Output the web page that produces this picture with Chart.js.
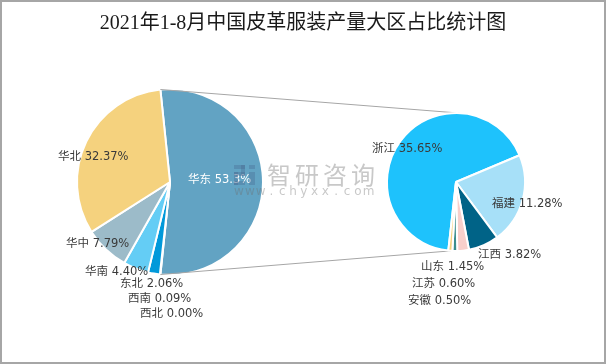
<!DOCTYPE html>
<html>
<head>
<meta charset="utf-8">
<script src="https://cdn.jsdelivr.net/npm/chart.js@4/dist/chart.umd.min.js"></script>
<style>
  body { margin: 0; background: #fff; }
  #wrap { position: relative; width: 606px; height: 364px; }
  #wrap canvas { position: absolute; left: 0; top: 0; }
</style>
</head>
<body>
<div id="wrap">
  <canvas id="mainPie" width="606" height="364"></canvas>
  <canvas id="subPie" width="606" height="364"></canvas>
</div>
<script>
const titleText = '2021年1-8月中国皮革服装产量大区占比统计图';

// primary pie: regions (clockwise from the 华东 slice)
const regions = ['华东', '西北', '西南', '东北', '华南', '华中', '华北'];
const regionShares = [53.3, 0.00, 0.09, 2.06, 4.40, 7.79, 32.37];
const regionColors = ['#62a3c3', '#7fa7c9', '#2f7fb0', '#0099da', '#64cdf5', '#9cbbc9', '#f5d27e'];

// secondary pie: provinces that make up 华东
const provinces = ['浙江', '福建', '江西', '山东', '江苏', '安徽'];
const provinceShares = [35.65, 11.28, 3.82, 1.45, 0.60, 0.50];
const provinceColors = ['#1ec2fc', '#a7e0f8', '#006387', '#f7cfcb', '#3a8d8d', '#f5d27e'];

// label anchors (left edge, middle) in the same order as the data
const regionLabelAt = [[188, 180], [140, 314], [128, 299], [120, 284], [85, 272], [66, 244], [58, 157]];
const provinceLabelAt = [[372, 149], [492, 204], [478, 255], [421, 267], [412, 284], [408, 301]];

const labelFont = '11.5px "DejaVu Sans", "Noto Sans CJK SC"';

function fmtPct(v) {
  // the source shows 53.3% with one decimal, the rest with two
  return (v >= 10 && Math.round(v * 10) / 10 === v ? v.toFixed(1) : v.toFixed(2)) + '%';
}

function sliceLabels(positions, whiteIdx) {
  return {
    id: 'sliceLabels',
    afterDatasetsDraw(chart) {
      const ctx = chart.ctx;
      const values = chart.data.datasets[0].data;
      ctx.save();
      ctx.font = labelFont;
      ctx.textBaseline = 'middle';
      ctx.textAlign = 'left';
      chart.data.labels.forEach((name, i) => {
        const [x, y] = positions[i];
        ctx.fillStyle = i === whiteIdx ? '#ffffff' : '#3a3a3a';
        ctx.fillText(name + ' ' + fmtPct(values[i]), x, y);
      });
      ctx.restore();
    }
  };
}

const frame = {
  id: 'frame',
  beforeDraw(chart) {
    const ctx = chart.ctx;
    ctx.save();
    ctx.fillStyle = '#fff';
    ctx.fillRect(0, 0, chart.width, chart.height);
    ctx.strokeStyle = '#a6a6a6';
    ctx.lineWidth = 2;
    ctx.strokeRect(1, 1, chart.width - 2, chart.height - 2);
    ctx.fillStyle = '#1a1a1a';
    ctx.font = '20px "Liberation Serif", "Noto Sans CJK SC"';
    ctx.textAlign = 'center';
    ctx.textBaseline = 'middle';
    ctx.fillText(titleText, 303, 24);
    ctx.restore();
  }
};

const watermark = {
  id: 'watermark',
  afterDraw(chart) {
    const ctx = chart.ctx;
    ctx.save();
    // logo block
    ctx.fillStyle = 'rgba(70,100,140,0.33)';
    ctx.fillRect(234, 165, 11, 4);
    ctx.fillRect(241, 165, 4, 11);
    ctx.fillRect(234, 172, 11, 4);
    ctx.fillRect(234, 172, 4, 13);
    ctx.fillRect(234, 181, 11, 4);
    ctx.fillRect(249, 165, 6, 4);
    ctx.fillRect(249, 172, 6, 13);
    ctx.fillStyle = 'rgba(110,110,110,0.38)';
    ctx.font = '24px "Noto Sans CJK SC"';
    ctx.textBaseline = 'middle';
    ctx.textAlign = 'center';
    ['智', '研', '咨', '询'].forEach((c, i) => ctx.fillText(c, 279 + i * 28, 175));
    ctx.font = '12px "DejaVu Sans"';
    'www.chyxx.com'.split('').forEach((c, i) => ctx.fillText(c, 239 + i * 10.8, 192));
    ctx.restore();
  }
};

const pieOptions = (rotation, radius, padding) => ({
  responsive: false,
  animation: false,
  events: [],
  rotation: rotation,
  layout: { padding: padding },
  plugins: { legend: { display: false }, tooltip: { enabled: false } },
  elements: { arc: { borderColor: '#ffffff', borderWidth: 2, hoverOffset: 0 } },
  radius: radius
});

const mainChart = new Chart(document.getElementById('mainPie').getContext('2d'), {
  type: 'pie',
  data: {
    labels: regions,
    datasets: [{ data: regionShares, backgroundColor: regionColors, radius: 93 }]
  },
  // 华东 slice centred on the right, pointing at the secondary pie
  options: pieOptions(90 - regionShares[0] * 1.8, 93, { left: 77, right: 343, top: 89, bottom: 89 }),
  plugins: [frame, sliceLabels(regionLabelAt, 0), watermark]
});

const connectors = {
  id: 'connectors',
  beforeDatasetsDraw(chart) {
    const src = mainChart.getDatasetMeta(0).data[0];
    const dst = chart.getDatasetMeta(0).data[0];
    const R = src.outerRadius, r = dst.outerRadius;
    const a1 = src.startAngle, a2 = src.endAngle;
    const topA = 3 * Math.PI / 180, botA = 184 * Math.PI / 180;
    const ctx = chart.ctx;
    ctx.save();
    ctx.strokeStyle = '#a6a6a6';
    ctx.lineWidth = 1;
    ctx.beginPath();
    ctx.moveTo(src.x + R * Math.cos(a1), src.y + R * Math.sin(a1));
    ctx.lineTo(dst.x + r * Math.sin(topA), dst.y - r * Math.cos(topA));
    ctx.moveTo(src.x + R * Math.cos(a2), src.y + R * Math.sin(a2));
    ctx.lineTo(dst.x + r * Math.sin(botA), dst.y - r * Math.cos(botA));
    ctx.stroke();
    ctx.restore();
  }
};

new Chart(document.getElementById('subPie').getContext('2d'), {
  type: 'pie',
  data: {
    labels: provinces,
    datasets: [{ data: provinceShares, backgroundColor: provinceColors, radius: 69 }]
  },
  options: pieOptions(186.4, 69, { left: 387, right: 81, top: 113, bottom: 113 }),
  plugins: [connectors, sliceLabels(provinceLabelAt, -1)]
});
</script>
</body>
</html>
